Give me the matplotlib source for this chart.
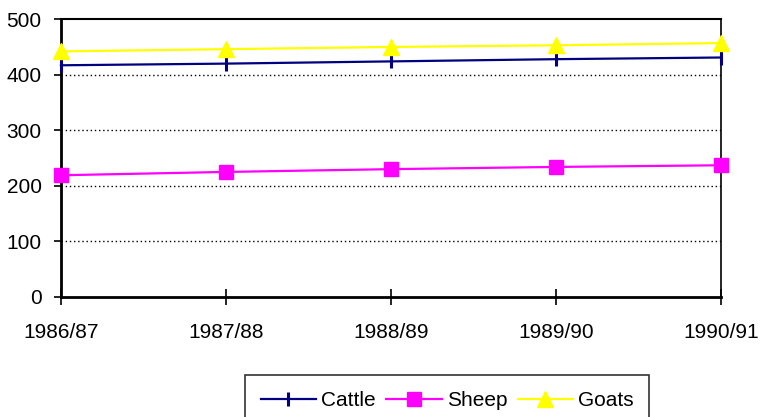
import matplotlib.pyplot as plt

seasons = ['1986/87', '1987/88', '1988/89', '1989/90', '1990/91']
cattle = [417, 420, 424, 428, 431]
sheep = [219, 225, 230, 234, 237]
goats = [442, 446, 450, 453, 457]

plt.rcParams['font.family'] = ['Liberation Sans', 'DejaVu Sans']

fig = plt.figure(figsize=(7.62, 4.17), dpi=100)
ax = fig.add_axes([0.080, 0.288, 0.866, 0.666])

x = range(len(seasons))
ax.plot(x, cattle, color='#000080', lw=1.6, marker='|', ms=9.5, mew=2.2,
        clip_on=False, zorder=3, label='Cattle')
ax.plot(x, sheep, color='#ff00ff', lw=1.6, marker='s', ms=9.5,
        clip_on=False, zorder=3, label='Sheep')
ax.plot(x, goats, color='#ffff00', lw=1.6, marker='^', ms=11,
        clip_on=False, zorder=3, label='Goats')

ax.set_xlim(0, len(seasons) - 1)
ax.set_ylim(0, 500)
ax.set_yticks([0, 100, 200, 300, 400, 500])
ax.set_xticks(list(x))
ax.set_xticklabels(seasons)
ax.tick_params(axis='x', direction='inout', length=12, width=1.2, labelsize=15, pad=13)
ax.tick_params(axis='y', direction='out', length=5, width=1.2, labelsize=15, pad=9)

for y in [100, 200, 300, 400]:
    ax.axhline(y, color='black', lw=1, ls=(0, (1, 2)), zorder=0)

ax.spines['left'].set_linewidth(2)
ax.spines['bottom'].set_linewidth(2)
ax.spines['top'].set_linewidth(1.5)
ax.spines['right'].set_linewidth(1.2)

leg = fig.legend(loc='upper center', bbox_to_anchor=(0.587, 0.10), ncol=3,
                 frameon=True, fancybox=False, edgecolor='black', fontsize=15,
                 handlelength=2.65, handletextpad=0.25, columnspacing=0.5,
                 borderpad=0.75, borderaxespad=0)
leg.get_frame().set_linewidth(1.2)

fig.savefig('out.png', dpi=100)
